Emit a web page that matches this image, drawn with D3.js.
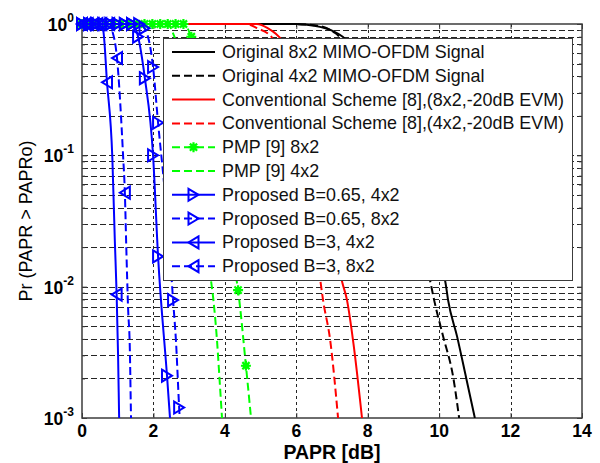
<!DOCTYPE html>
<html><head><meta charset="utf-8">
<script src="https://cdn.jsdelivr.net/npm/d3@7"></script>
<style>
html,body{margin:0;padding:0;background:#fff;}
svg{display:block;}
text{font-family:"Liberation Sans",Arial,sans-serif;}
</style></head>
<body>
<svg id="chart" width="600" height="463"></svg>
<script>
// ---------- data ----------
const xTicks = [0, 2, 4, 6, 8, 10, 12, 14];
const yTickExps = [0, -1, -2, -3];
const xLabel = "PAPR [dB]";
const yLabel = "Pr (PAPR > PAPRo)";
const legendLabels = [
  "Original 8x2 MIMO-OFDM Signal",
  "Original 4x2 MIMO-OFDM Signal",
  "Conventional Scheme [8],(8x2,-20dB EVM)",
  "Conventional Scheme [8],(4x2,-20dB EVM)",
  "PMP [9] 8x2",
  "PMP [9] 4x2",
  "Proposed B=0.65, 4x2",
  "Proposed B=0.65, 8x2",
  "Proposed B=3, 4x2",
  "Proposed B=3, 8x2"
];
// [PAPR dB, probability, marker flag]
const orig8x2 = [[0,1],[6.0,1],[6.5,0.97],[7.0,0.89],[7.3,0.8],[7.8,0.55],[8.3,0.3],[8.8,0.13],[9.3,0.05],[9.8,0.019],[10.17,0.011],[10.25,0.0079],[10.5,0.0042],[10.76,0.002],[11.0,0.001]];
const orig4x2 = [[0,1],[5.8,1],[6.5,0.98],[7.1,0.85],[7.5,0.62],[8.0,0.36],[8.5,0.15],[9.0,0.055],[9.5,0.02],[9.75,0.011],[9.86,0.0079],[10.1,0.0043],[10.4,0.002],[10.56,0.001]];
const conv8x2 = [[0,1],[4.9,1],[5.2,0.93],[5.6,0.75],[6.0,0.45],[6.4,0.2],[6.8,0.06],[7.1,0.02],[7.28,0.011],[7.42,0.0079],[7.6,0.0037],[7.84,0.001]];
const conv4x2 = [[0,1],[4.6,1],[4.9,0.93],[5.3,0.8],[5.7,0.45],[6.1,0.15],[6.4,0.045],[6.6,0.016],[6.75,0.0079],[6.95,0.0039],[7.17,0.001]];
const pmp8x2 = [[0,1,1],[0.22,1,1],[0.44,1,1],[0.66,1,1],[0.87,1,1],[1.09,1,1],[1.31,1,1],[1.53,1,1],[1.75,1,1],[1.97,1,1],[2.19,1,1],[2.40,1,1],[2.62,1,1],[2.84,1,1],[3.06,0.8,1],[3.28,0.5,1],[3.50,0.25,1],[3.71,0.1,1],[3.93,0.045,1],[4.15,0.02,1],[4.37,0.0094,1],[4.59,0.0025,1],[4.81,0.0006,1]];
const pmp4x2 = [[0,1],[2.4,1],[2.55,0.85],[2.8,0.5],[3.0,0.25],[3.2,0.1],[3.35,0.05],[3.5,0.025],[3.6,0.012],[3.68,0.0079],[3.78,0.0039],[3.85,0.002],[3.92,0.001]];
const prop065_4x2 = [[0,1,1],[0.2,1,1],[0.4,1,1],[0.6,1,1],[0.8,1,1],[1.0,1,1],[1.2,1,1],[1.4,1,1],[1.57,0.8,1],[1.76,0.387,1],[1.99,0.1,1],[2.13,0.017,1],[2.38,0.0021,1],[2.6,0.0003,0]];
const prop065_8x2 = [[0,1,1],[0.2,1,1],[0.4,1,1],[0.6,1,1],[0.8,1,1],[1.0,1,1],[1.2,1,1],[1.4,1,1],[1.6,1,1],[1.75,0.93,1],[1.99,0.47,1],[2.13,0.177,1],[2.3,0.06,0],[2.45,0.02,0],[2.55,0.0079,1],[2.63,0.0039,0],[2.72,0.0012,1],[2.85,0.0003,0]];
const prop3_4x2 = [[0,1,1],[0.16,1,1],[0.43,1,1],[0.59,0.9,0],[0.70,0.36,1],[0.85,0.095,0],[0.92,0.022,0],[0.97,0.0087,1],[1.01,0.003,0],[1.04,0.001,0],[1.06,0.0005,0]];
const prop3_8x2 = [[0,1,1],[0.1,1,1],[0.32,1,1],[0.54,1,1],[0.76,1,1],[0.84,0.9,0],[0.98,0.55,1],[1.15,0.1,0],[1.20,0.052,1],[1.24,0.02,0],[1.29,0.0069,0],[1.34,0.0033,0],[1.37,0.0011,0],[1.38,0.0008,0]];

// ---------- series styling table ----------
const series = [
  {data: orig8x2, color: "#000000", dash: null, marker: null},
  {data: orig4x2, color: "#000000", dash: "8,4", marker: null},
  {data: conv8x2, color: "#ff0000", dash: null, marker: null},
  {data: conv4x2, color: "#ff0000", dash: "8,4", marker: null},
  {data: pmp8x2, color: "#00ff00", dash: "8,4", marker: "star"},
  {data: pmp4x2, color: "#00ff00", dash: "8,4", marker: null},
  {data: prop065_4x2, color: "#0000ff", dash: null, marker: "right"},
  {data: prop065_8x2, color: "#0000ff", dash: "8,4", marker: "right"},
  {data: prop3_4x2, color: "#0000ff", dash: null, marker: "left"},
  {data: prop3_8x2, color: "#0000ff", dash: "8,4", marker: "left"}
].map((s, i) => Object.assign(s, {label: legendLabels[i]}));

// ---------- layout ----------
const L = 82, R = 582, T = 24, B = 418;
const svg = d3.select("#chart");
const x = d3.scaleLinear().domain([0, 14]).range([L, R]);
const y = d3.scaleLog().domain([1e-3, 1]).range([B, T]);
const axisColor = "#3c3c3c";

// grid
const minorVals = [];
[-3, -2, -1].forEach(e => { for (let m = 1; m <= 9; m++) minorVals.push(m * Math.pow(10, e)); });
const gridH = minorVals.filter(v => v > 1.0001e-3);
const gGrid = svg.append("g");
gGrid.selectAll("line.h").data(gridH).enter().append("line")
  .attr("x1", L).attr("x2", R)
  .attr("y1", d => Math.round(y(d)) + 0.5).attr("y2", d => Math.round(y(d)) + 0.5)
  .attr("stroke", "#000").attr("stroke-width", 1).attr("stroke-dasharray", "6,3").attr("opacity", 0.85);
gGrid.selectAll("line.v").data(xTicks.slice(1, -1)).enter().append("line")
  .attr("y1", T).attr("y2", B)
  .attr("x1", d => Math.round(x(d)) + 0.5).attr("x2", d => Math.round(x(d)) + 0.5)
  .attr("stroke", "#000").attr("stroke-width", 1).attr("stroke-dasharray", "3,3").attr("opacity", 0.85);

// axes (ticks inward on all four sides)
const xAxisB = d3.axisBottom(x).tickValues(xTicks).tickSize(-5).tickFormat("");
const xAxisT = d3.axisTop(x).tickValues(xTicks).tickSize(-5).tickFormat("");
svg.append("g").attr("transform", `translate(0,${B})`).call(xAxisB);
svg.append("g").attr("transform", `translate(0,${T})`).call(xAxisT);
const yMajor = yTickExps.map(e => Math.pow(10, e));
const yMinor = minorVals.filter(v => ![1e-3, 1e-2, 1e-1].some(m => Math.abs(v - m) < 1e-9));
svg.append("g").attr("transform", `translate(${L},0)`).call(d3.axisLeft(y).tickValues(yMajor).tickSize(-5).tickFormat(""));
svg.append("g").attr("transform", `translate(${R},0)`).call(d3.axisRight(y).tickValues(yMajor).tickSize(-5).tickFormat(""));
svg.append("g").attr("transform", `translate(${L},0)`).call(d3.axisLeft(y).tickValues(yMinor).tickSize(-3).tickFormat(""));
svg.append("g").attr("transform", `translate(${R},0)`).call(d3.axisRight(y).tickValues(yMinor).tickSize(-3).tickFormat(""));
svg.selectAll(".domain").remove();
svg.selectAll(".tick line").attr("stroke", axisColor).attr("stroke-width", 1);
svg.append("rect").attr("x", L).attr("y", T).attr("width", R - L).attr("height", B - T)
  .attr("fill", "none").attr("stroke", axisColor).attr("stroke-width", 1.5);

// tick labels
svg.append("g").selectAll("text").data(xTicks).enter().append("text")
  .attr("x", d => x(d)).attr("y", 437).attr("text-anchor", "middle")
  .attr("font-size", 17.5).attr("font-weight", "bold").text(d => d);
const yl = svg.append("g").selectAll("text").data(yTickExps).enter().append("text")
  .attr("x", 74).attr("y", d => y(Math.pow(10, d)) + 7).attr("text-anchor", "end")
  .attr("font-size", 17.5).attr("font-weight", "bold");
yl.append("tspan").text("10");
yl.append("tspan").attr("dy", -9).attr("font-size", 12).text(d => d);

// axis labels
svg.append("text").attr("x", (L + R) / 2).attr("y", 459).attr("text-anchor", "middle")
  .attr("font-size", 19.5).attr("font-weight", "bold").text(xLabel);
svg.append("text").attr("transform", `translate(32,${(T + B) / 2}) rotate(-90)`)
  .attr("text-anchor", "middle").attr("font-size", 18).text(yLabel);

// markers
function markerPath(type) {
  if (type === "right") return "M-5,-6L5,0L-5,6Z";
  if (type === "left") return "M5,-6L-5,0L5,6Z";
  if (type === "star") return "M-5,0L5,0M0,-5L0,5M-3.6,-3.6L3.6,3.6M-3.6,3.6L3.6,-3.6";
  return "";
}
function drawMarker(g, type, color, cx, cy) {
  g.append("path").attr("d", markerPath(type)).attr("transform", `translate(${cx},${cy})`)
    .attr("stroke", color).attr("stroke-width", type === "star" ? 2.2 : 2)
    .attr("fill", type === "star" ? color : "none").attr("stroke-linejoin", "miter");
  if (type === "star") g.append("path").attr("d", "M0,-4L4,0L0,4L-4,0Z")
    .attr("transform", `translate(${cx},${cy})`).attr("fill", color);
}

// curves
svg.append("clipPath").attr("id", "clip").append("rect")
  .attr("x", L - 2).attr("y", T - 3).attr("width", R - L + 4).attr("height", B - T + 3);
const line = d3.line().x(d => x(d[0])).y(d => y(d[1])).curve(d3.curveMonotoneX);
const gCurves = svg.append("g");
series.forEach(s => {
  const g = gCurves.append("g");
  g.append("path").attr("d", line(s.data)).attr("clip-path", "url(#clip)")
    .attr("fill", "none").attr("stroke", s.color).attr("stroke-width", 2)
    .attr("stroke-dasharray", s.dash);
  if (s.marker) {
    s.data.filter(d => d[2] && d[1] >= 1e-3).forEach(d => drawMarker(g, s.marker, s.color, x(d[0]), y(d[1])));
  }
});

// legend
const lg = svg.append("g");
lg.append("rect").attr("x", 163.5).attr("y", 38.5).attr("width", 409).attr("height", 242)
  .attr("fill", "#fff").attr("stroke", axisColor).attr("stroke-width", 1);
const rowY = i => 52 + i * 23.8;
series.forEach((s, i) => {
  const yy = rowY(i);
  lg.append("line").attr("x1", 172).attr("x2", 215).attr("y1", yy).attr("y2", yy)
    .attr("stroke", s.color).attr("stroke-width", 2).attr("stroke-dasharray", s.dash);
  if (s.marker) drawMarker(lg, s.marker, s.color, 193.5, yy);
  lg.append("text").attr("x", 222).attr("y", yy + 6).attr("font-size", 17.9).attr("fill", "#111").text(s.label);
});
</script>
</body></html>
